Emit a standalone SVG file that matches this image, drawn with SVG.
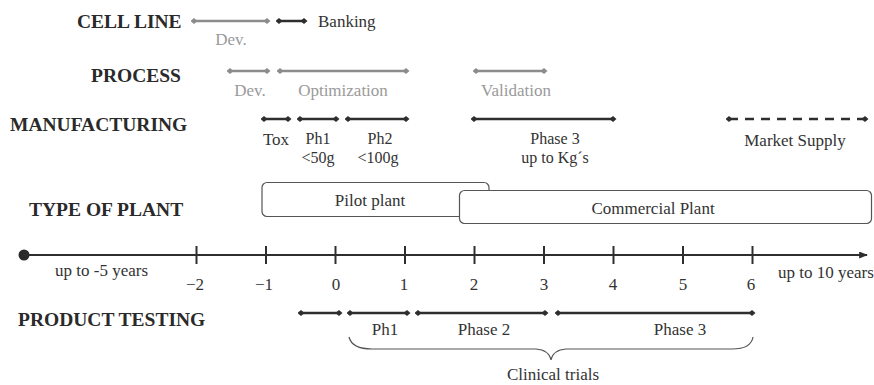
<svg xmlns="http://www.w3.org/2000/svg" width="874" height="385" viewBox="0 0 874 385">
<style>
text{font-family:"Liberation Serif","Times New Roman",serif;}
.h{font-size:19.5px;font-weight:bold;fill:#2a2a2a;}
.l{font-size:17px;fill:#333;}
.m{font-size:16px;fill:#333;}
.g{font-size:17px;fill:#9a9a9a;}
.c{text-anchor:middle;}
.sd{stroke:#2e2e2e;stroke-width:2.5;fill:none;marker-start:url(#dd);marker-end:url(#dd);}
.sg{stroke:#8c8c8c;stroke-width:2.5;fill:none;marker-start:url(#dg);marker-end:url(#dg);}
.box{fill:#fff;stroke:#555;stroke-width:1.2;}
.tick{stroke:#2e2e2e;stroke-width:2;}
</style>
<defs>
<marker id="dd" viewBox="0 0 6 6" refX="3" refY="3" markerWidth="7" markerHeight="7" markerUnits="userSpaceOnUse" orient="auto"><path d="M0,3 L3,0.5 L6,3 L3,5.5 Z" fill="#2e2e2e"/></marker>
<marker id="dg" viewBox="0 0 6 6" refX="3" refY="3" markerWidth="7" markerHeight="7" markerUnits="userSpaceOnUse" orient="auto"><path d="M0,3 L3,0.5 L6,3 L3,5.5 Z" fill="#8c8c8c"/></marker>
<marker id="ar" viewBox="0 0 10 8" refX="9" refY="4" markerWidth="9" markerHeight="7" markerUnits="userSpaceOnUse" orient="auto"><path d="M0,0 L10,4 L0,8 Z" fill="#2e2e2e"/></marker>
</defs>

<g id="headings">
<text class="h" x="77" y="28">CELL LINE</text>
<text class="h" x="91" y="82">PROCESS</text>
<text class="h" x="10" y="131">MANUFACTURING</text>
<text class="h" x="29" y="216">TYPE OF PLANT</text>
<text class="h" x="18" y="326">PRODUCT TESTING</text>
</g>

<g id="connectors">
<line class="sg" x1="194" y1="21" x2="267" y2="21"/>
<line class="sd" x1="279" y1="21" x2="304" y2="21"/>
<line class="sg" x1="230" y1="71" x2="267" y2="71"/>
<line class="sg" x1="280" y1="71" x2="406" y2="71"/>
<line class="sg" x1="476" y1="71" x2="544" y2="71"/>
<line class="sd" x1="264" y1="119" x2="288" y2="119"/>
<line class="sd" x1="300" y1="119" x2="336" y2="119"/>
<line class="sd" x1="348" y1="119" x2="406" y2="119"/>
<line class="sd" x1="474" y1="119" x2="613" y2="119"/>
<line class="sd" x1="729" y1="119" x2="865" y2="119" stroke-dasharray="9,7"/>
<line class="sd" x1="301" y1="313" x2="339" y2="313"/>
<line class="sd" x1="350" y1="313" x2="407" y2="313"/>
<line class="sd" x1="418" y1="313" x2="545" y2="313"/>
<line class="sd" x1="558" y1="313" x2="752" y2="313"/>
</g>

<g id="labels">
<text class="l" x="318" y="27">Banking</text>
<text class="g c" x="231" y="45">Dev.</text>
<text class="g c" x="250" y="96">Dev.</text>
<text class="g c" x="343" y="96">Optimization</text>
<text class="g c" x="516" y="96">Validation</text>
<text class="l c" x="276" y="145">Tox</text>
<text class="m c" x="318" y="144">Ph1</text>
<text class="m c" x="318" y="163">&lt;50g</text>
<text class="m c" x="380" y="144">Ph2</text>
<text class="m c" x="378" y="163">&lt;100g</text>
<text class="m c" x="555" y="144">Phase 3</text>
<text class="m c" x="555" y="163">up to Kg´s</text>
<text class="l c" x="795" y="146">Market Supply</text>
</g>

<g id="pilot-plant">
<rect class="box" x="262" y="182.5" width="227" height="34" rx="5"/>
<text class="l c" x="370" y="206">Pilot plant</text>
</g>
<g id="commercial-plant">
<rect class="box" x="459.5" y="190.5" width="412" height="33" rx="5"/>
<text class="l c" x="653" y="214">Commercial Plant</text>
</g>

<g id="axis">
<circle cx="24" cy="255" r="5.5" fill="#2a2a2a"/>
<line x1="24" y1="255" x2="867" y2="255" stroke="#2e2e2e" stroke-width="2" marker-end="url(#ar)"/>
<line class="tick" x1="196.5" y1="246" x2="196.5" y2="264"/>
<line class="tick" x1="266" y1="246" x2="266" y2="264"/>
<line class="tick" x1="335.5" y1="246" x2="335.5" y2="264"/>
<line class="tick" x1="405" y1="246" x2="405" y2="264"/>
<line class="tick" x1="474.5" y1="246" x2="474.5" y2="264"/>
<line class="tick" x1="544" y1="246" x2="544" y2="264"/>
<line class="tick" x1="613.5" y1="246" x2="613.5" y2="264"/>
<line class="tick" x1="683" y1="246" x2="683" y2="264"/>
<line class="tick" x1="752.5" y1="246" x2="752.5" y2="264"/>
<text class="l" x="55" y="276">up to -5 years</text>
<text class="l c" x="195" y="290">−2</text>
<text class="l c" x="264" y="290">−1</text>
<text class="l c" x="336" y="290">0</text>
<text class="l c" x="404" y="290">1</text>
<text class="l c" x="474" y="290">2</text>
<text class="l c" x="544" y="290">3</text>
<text class="l c" x="613" y="290">4</text>
<text class="l c" x="683" y="290">5</text>
<text class="l c" x="751" y="290">6</text>
<text class="l" x="778" y="278">up to 10 years</text>
</g>

<g id="testing-labels">
<text class="l c" x="385" y="335">Ph1</text>
<text class="l c" x="484" y="335">Phase 2</text>
<text class="l c" x="680" y="335">Phase 3</text>
</g>

<g id="clinical-trials">
<path d="M349,337 Q352,349 372,349 L536,349 Q549,350 551,360 Q553,350 566,349 L732,349 Q751,349 753,337" fill="none" stroke="#555" stroke-width="1.2"/>
<text class="l c" x="553" y="380">Clinical trials</text>
</g>
</svg>
